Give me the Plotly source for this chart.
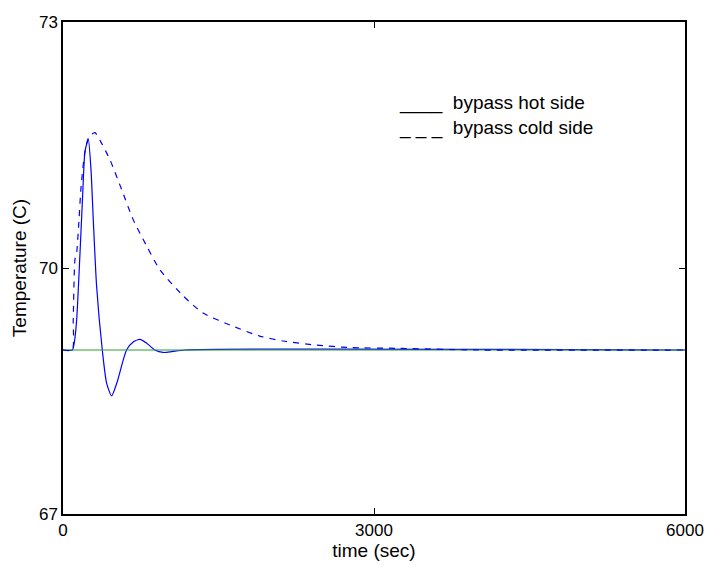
import plotly.graph_objects as go

# Hot side (solid)
hot_t = [0, 90, 110, 132, 164, 190, 212, 244, 270, 292, 324, 379, 420, 469, 520, 613, 680, 742, 810, 886, 966, 1050, 1175, 6000]
hot_y = [69.0, 69.0, 69.1, 69.37, 70.18, 70.9, 71.42, 71.57, 71.2, 70.59, 69.78, 69.0, 68.6, 68.44, 68.6, 69.0, 69.1, 69.13, 69.08, 69.0, 68.97, 68.98, 69.0, 69.0]

# Cold side (dashed)
cold_t = [0, 90, 99, 115, 132, 150, 175, 212, 250, 308, 360, 453, 565, 677, 806, 934, 1159, 1351, 1640, 1897, 2122, 2443, 2764, 3245, 4000, 6000]
cold_y = [69.0, 69.0, 69.37, 70.1, 70.19, 70.5, 71.0, 71.42, 71.6, 71.65, 71.55, 71.32, 70.96, 70.59, 70.27, 69.98, 69.66, 69.45, 69.29, 69.17, 69.11, 69.06, 69.03, 69.02, 69.0, 69.0]

# Setpoint (green)
set_t = [0, 6000]
set_y = [69.0, 69.0]

x_ticks = [0, 3000, 6000]
y_ticks = [67, 70, 73]

fig = go.Figure()
fig.add_trace(go.Scatter(x=hot_t, y=hot_y, mode="lines", line=dict(color="#0000ff", width=1.2, shape="spline", smoothing=0.6), showlegend=False))
fig.add_trace(go.Scatter(x=set_t, y=set_y, mode="lines", line=dict(color="#2ca02c", width=1.2), showlegend=False))
fig.add_trace(go.Scatter(x=cold_t, y=cold_y, mode="lines", line=dict(color="#0000ff", width=1.2, dash="6px,6px", shape="spline", smoothing=0.6), showlegend=False))

tick_font = dict(family="Liberation Sans, Arial, sans-serif", size=17, color="black")
label_font = dict(family="Liberation Sans, Arial, sans-serif", size=19, color="black")
legend_font = dict(family="Liberation Sans, Arial, sans-serif", size=19, color="black")

fig.update_layout(
    width=709, height=565,
    margin=dict(l=63, r=24, t=22, b=51),
    paper_bgcolor="white", plot_bgcolor="white",
    font=tick_font,
    xaxis=dict(range=[0, 6000], tickvals=x_ticks, ticktext=[str(v) for v in x_ticks],
               showgrid=False, zeroline=False, showline=True, linecolor="black", linewidth=1.5,
               mirror="allticks", ticks="inside", ticklen=6, tickcolor="black", tickfont=tick_font,
               automargin=False,
               title=dict(text="time (sec)", standoff=5, font=label_font)),
    yaxis=dict(range=[67, 73], tickvals=y_ticks, ticktext=[str(v) for v in y_ticks],
               showgrid=False, zeroline=False, showline=True, linecolor="black", linewidth=1.5,
               mirror="allticks", ticks="inside", ticklen=6, tickcolor="black", tickfont=tick_font,
               automargin=False,
               title=dict(text="Temperature (C)", standoff=7, font=label_font)),
    annotations=[
        dict(x=3226, y=72.01, xref="x", yref="y", xanchor="left", yanchor="middle", showarrow=False,
             text="____  bypass hot side", font=legend_font),
        dict(x=3226, y=71.71, xref="x", yref="y", xanchor="left", yanchor="middle", showarrow=False,
             text="_ _ _  bypass cold side", font=legend_font),
    ],
)

fig.write_html("out.html")
